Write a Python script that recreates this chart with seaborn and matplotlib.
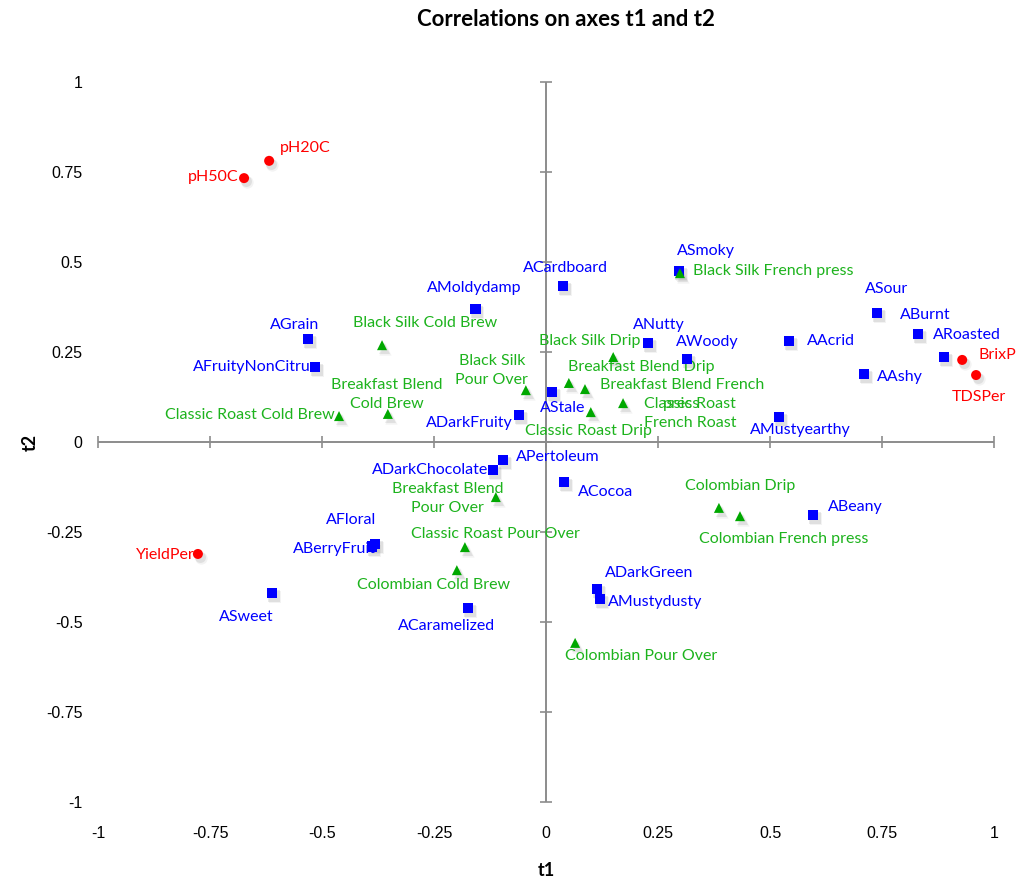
import matplotlib
matplotlib.use("Agg")
import matplotlib.pyplot as plt
import matplotlib.transforms as mtransforms
import seaborn as sns
import pandas as pd

# variables / observations on the t1-t2 correlation plane
red_names = ["pH20C", "pH50C", "BrixP", "TDSPer", "YieldPer"]
red_t1 = [-0.618, -0.674, 0.929, 0.960, -0.777]
red_t2 = [0.781, 0.733, 0.228, 0.186, -0.311]

blue_names = ["AGrain", "AFruityNonCitrus", "AMoldydamp", "ACardboard", "ASmoky", "ANutty",
              "AWoody", "AAcrid", "ASour", "ABurnt", "ARoasted", "AAshy", "AMustyearthy",
              "AStale", "ADarkFruity", "ADarkChocolate", "APertoleum", "ACocoa", "AFloral",
              "ABerryFruit", "ASweet", "ACaramelized", "ADarkGreen", "AMustydusty", "ABeany"]
blue_t1 = [-0.531, -0.516, -0.158, 0.038, 0.297, 0.228,
           0.315, 0.542, 0.739, 0.830, 0.888, 0.710, 0.520,
           0.013, -0.060, -0.118, -0.096, 0.040, -0.382,
           -0.388, -0.612, -0.174, 0.114, 0.121, 0.596]
blue_t2 = [0.286, 0.208, 0.369, 0.433, 0.475, 0.275,
           0.231, 0.281, 0.358, 0.300, 0.236, 0.189, 0.069,
           0.139, 0.075, -0.078, -0.050, -0.111, -0.283,
           -0.291, -0.419, -0.461, -0.408, -0.436, -0.203]

green_names = ["Black Silk Cold Brew", "Classic Roast Cold Brew", "Breakfast Blend\nCold Brew",
               "Black Silk\nPour Over", "Black Silk French press", "Black Silk Drip",
               "Breakfast Blend Drip", "Breakfast Blend French\npress", "Classic Roast\nFrench Roast",
               "Classic Roast Drip", "Breakfast Blend\nPour Over", "Classic Roast Pour Over",
               "Colombian Cold Brew", "Colombian Pour Over", "Colombian Drip", "Colombian French press"]
green_t1 = [-0.366, -0.462, -0.353, -0.045, 0.299, 0.150, 0.051, 0.087, 0.172,
            0.100, -0.112, -0.181, -0.199, 0.065, 0.386, 0.433]
green_t2 = [0.269, 0.072, 0.078, 0.144, 0.469, 0.236, 0.164, 0.147, 0.108,
            0.083, -0.153, -0.292, -0.356, -0.558, -0.183, -0.206]

tick_values = [-1, -0.75, -0.5, -0.25, 0, 0.25, 0.5, 0.75, 1]
tick_labels = ["-1", "-0.75", "-0.5", "-0.25", "0", "0.25", "0.5", "0.75", "1"]

# label placement: offset in pixels from the marker (y up) and horizontal alignment
label_pos = {
    "pH20C": (11, 13, "left"), "pH50C": (-6, 1, "right"), "BrixP": (16, 5, "left"),
    "TDSPer": (3, -22, "center"), "YieldPer": (-3, -1, "right"),
    "AGrain": (-14, 14, "center"), "AFruityNonCitrus": (3, 0, "right"),
    "AMoldydamp": (-1, 21, "center"), "ACardboard": (2, 18, "center"),
    "ASmoky": (27, 20, "center"), "ANutty": (11, 18, "center"), "AWoody": (20, 17, "center"),
    "AAcrid": (18, 0, "left"), "ASour": (10, 24, "center"), "ABurnt": (7, 19, "center"),
    "ARoasted": (23, 22, "center"), "AAshy": (13, -3, "left"), "AMustyearthy": (21, -13, "center"),
    "AStale": (11, -16, "center"), "ADarkFruity": (-6, -8, "right"),
    "ADarkChocolate": (-5, 0, "right"), "APertoleum": (13, 3, "left"), "ACocoa": (14, -10, "left"),
    "AFloral": (-24, 24, "center"), "ABerryFruit": (4, -2, "right"), "ASweet": (-26, -24, "center"),
    "ACaramelized": (-22, -18, "center"), "ADarkGreen": (8, 16, "left"),
    "AMustydusty": (8, -3, "left"), "ABeany": (15, 8, "left"),
    "Black Silk Cold Brew": (43, 22, "center"), "Classic Roast Cold Brew": (-4, 1, "right"),
    "Breakfast Blend\nCold Brew": (-1, 19, "center"), "Black Silk\nPour Over": (-34, 20, "center"),
    "Black Silk French press": (13, 2, "left"), "Black Silk Drip": (-23, 16, "center"),
    "Breakfast Blend Drip": (-1, 16, "left"), "Breakfast Blend French\npress": (97, -5, "center"),
    "Classic Roast\nFrench Roast": (67, -10, "center"), "Classic Roast Drip": (-2, -19, "center"),
    "Breakfast Blend\nPour Over": (-48, -1, "center"), "Classic Roast Pour Over": (31, 13, "center"),
    "Colombian Cold Brew": (-23, -15, "center"), "Colombian Pour Over": (-10, -13, "left"),
    "Colombian Drip": (21, 22, "center"), "Colombian French press": (44, -23, "center"),
}

df = pd.concat([
    pd.DataFrame({"name": red_names, "t1": red_t1, "t2": red_t2, "group": "sup"}),
    pd.DataFrame({"name": blue_names, "t1": blue_t1, "t2": blue_t2, "group": "var"}),
    pd.DataFrame({"name": green_names, "t1": green_t1, "t2": green_t2, "group": "obs"}),
], ignore_index=True)

sns.set_theme(style="white")
plt.rcParams['font.family'] = ['Lato', 'DejaVu Sans']
plt.rcParams['text.color'] = 'black'
plt.rcParams['xtick.color'] = 'black'
plt.rcParams['ytick.color'] = 'black'

colors = {"sup": "#ff0000", "var": "#0000ff", "obs": "#00a800"}
text_colors = {"sup": "#ff0000", "var": "#0000ff", "obs": "#1db31d"}
markers = {"sup": "o", "var": "s", "obs": "^"}
sizes = {"sup": 52, "var": 58, "obs": 52}

fig = plt.figure(figsize=(10.21, 8.88), dpi=100)
ax = fig.add_axes([98 / 1021, 86 / 888, 896 / 1021, 720 / 888])
ax.set_xlim(-1, 1)
ax.set_ylim(-1, 1)

# axis lines through the origin with crossing ticks
gray = "#8c8c8c"
ax.axhline(0, color=gray, lw=1.4, zorder=1)
ax.axvline(0, color=gray, lw=1.4, zorder=1)
ax.plot(tick_values, [0] * len(tick_values), ls="none", marker="|", ms=8, mew=1.2, color=gray,
        clip_on=False, zorder=1)
ax.plot([0] * len(tick_values), tick_values, ls="none", marker="_", ms=8, mew=1.2, color=gray,
        clip_on=False, zorder=1)

# soft drop shadow, then the markers
for k, (ox, oy, a) in enumerate([(2, -3, 0.18), (3, -4, 0.10)]):
    shadow = mtransforms.offset_copy(ax.transData, fig=fig, x=ox, y=oy, units="dots")
    for g in ["sup", "var", "obs"]:
        sub = df[df["group"] == g]
        ax.scatter(sub["t1"], sub["t2"], marker=markers[g], s=sizes[g] * (1.2 + 0.3 * k),
                   color="#8a8a8a", alpha=a, linewidths=0, transform=shadow, zorder=2,
                   clip_on=False)

sns.scatterplot(data=df, x="t1", y="t2", hue="group", style="group", palette=colors,
                markers=markers, size="group", sizes=sizes, legend=False, linewidth=0,
                ax=ax, zorder=4, clip_on=False)

for _, row in df.iterrows():
    dx, dy, ha = label_pos[row["name"]]
    ax.annotate(row["name"], (row["t1"], row["t2"]), xytext=(dx, dy), textcoords="offset pixels",
                ha=ha, va="center", multialignment="center", linespacing=1.45,
                fontsize=11.5, color=text_colors[row["group"]], zorder=3)

for s in ax.spines.values():
    s.set_visible(False)
ax.set_xticks(tick_values)
ax.set_xticklabels(tick_labels)
ax.set_yticks(tick_values)
ax.set_yticklabels(tick_labels)
ax.tick_params(axis="x", length=0, pad=17, labelsize=11.5)
ax.tick_params(axis="y", length=0, pad=11, labelsize=11.5)
for lab in ax.get_xticklabels() + ax.get_yticklabels():
    lab.set_fontfamily(["Liberation Sans", "DejaVu Sans"])
ax.set_xlabel("")
ax.set_ylabel("")

fig.text(566 / 1021, 1 - 19 / 888, "Correlations on axes t1 and t2", ha="center", va="center",
         fontsize=16, fontweight="bold")
fig.text(546 / 1021, 1 - 870 / 888, "t1", ha="center", va="center", fontsize=13, fontweight="bold")
fig.text(30 / 1021, 1 - 442 / 888, "t2", ha="center", va="center", fontsize=13, fontweight="bold",
         rotation=90)

fig.savefig("out.png", dpi=100)
plt.close("all")
